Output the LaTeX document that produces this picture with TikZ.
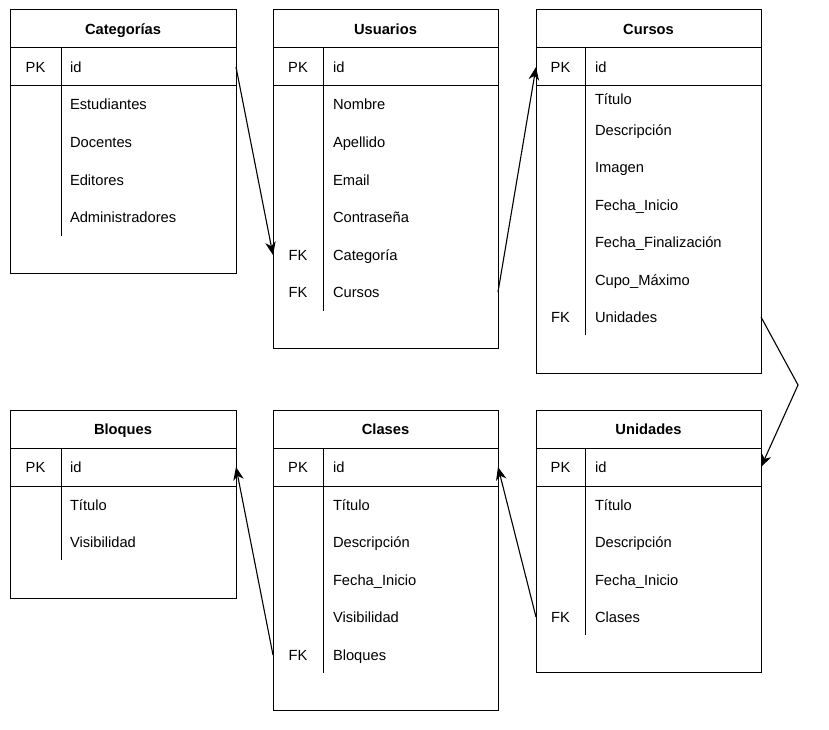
\documentclass[tikz,border=0pt]{standalone}
\usepackage{fontspec}
\setmainfont{Liberation Sans}
\usetikzlibrary{arrows.meta}
\begin{document}
\begin{tikzpicture}[x=1pt,y=-1pt,
  txt/.style={font=\fontsize{14.7}{17}\selectfont, inner sep=0pt, outer sep=0pt, text height=10.5pt, text depth=0pt},
  tbl/.style={draw, line width=1pt, inner sep=0pt, outer sep=0pt, anchor=north west, minimum width=#1},
  ttl/.style={txt, font=\fontsize{14.7}{17}\selectfont\bfseries},
  fld/.style={txt, anchor=west},
  key/.style={txt},
  ln/.style={line width=1pt},
  arr/.style={line width=1.1pt, -{Stealth[length=13pt,width=10.5pt,inset=4pt]}}]
\useasboundingbox (0,0) rectangle (829,730);

% ---------- Categorias ----------
\node[tbl=226pt, minimum height=263pt] (cat) at (10,10) {};
\draw[ln] (10,48) -- (236,48);
\draw[ln] (10,86) -- (236,86);
\draw[ln] (61,48) -- (61,236);
\node[ttl] (cat-t) at (123,29) {Categorías};
\node[key] (cat-pk) at (35.5,67) {PK};
\node[fld] (cat-id) at (70,67) {id};
\node[fld] (cat-f1) at (70,104) {Estudiantes};
\node[fld] (cat-f2) at (70,142) {Docentes};
\node[fld] (cat-f3) at (70,180) {Editores};
\node[fld] (cat-f4) at (70,217) {Administradores};

% ---------- Usuarios ----------
\node[tbl=225pt, minimum height=338pt] (usu) at (273,10) {};
\draw[ln] (273,48) -- (498,48);
\draw[ln] (273,86) -- (498,86);
\draw[ln] (323,48) -- (323,311);
\node[ttl] (usu-t) at (385.5,29) {Usuarios};
\node[key] (usu-pk) at (298,67) {PK};
\node[fld] (usu-id) at (333,67) {id};
\node[fld] (usu-f1) at (333,104) {Nombre};
\node[fld] (usu-f2) at (333,142) {Apellido};
\node[fld] (usu-f3) at (333,180) {Email};
\node[fld] (usu-f4) at (333,217) {Contraseña};
\node[key] (usu-fk1) at (298,255) {FK};
\node[fld] (usu-cat) at (333,255) {Categoría};
\node[key] (usu-fk2) at (298,292) {FK};
\node[fld] (usu-cur) at (333,292) {Cursos};

% ---------- Cursos ----------
\node[tbl=225pt, minimum height=363pt] (cur) at (536,10) {};
\draw[ln] (536,48) -- (761,48);
\draw[ln] (536,86) -- (761,86);
\draw[ln] (585,48) -- (585,335);
\node[ttl] (cur-t) at (648.5,29) {Cursos};
\node[key] (cur-pk) at (560.5,67) {PK};
\node[fld] (cur-id) at (595,67) {id};
\node[fld] (cur-f1) at (595,99) {Título};
\node[fld] (cur-f2) at (595,130) {Descripción};
\node[fld] (cur-f3) at (595,167) {Imagen};
\node[fld] (cur-f4) at (595,205) {Fecha\_Inicio};
\node[fld] (cur-f5) at (595,242) {Fecha\_Finalización};
\node[fld] (cur-f6) at (595,280) {Cupo\_Máximo};
\node[key] (cur-fk) at (560.5,317) {FK};
\node[fld] (cur-uni) at (595,317) {Unidades};

% ---------- Bloques ----------
\node[tbl=226pt, minimum height=188pt] (blo) at (10,410) {};
\draw[ln] (10,448) -- (236,448);
\draw[ln] (10,486) -- (236,486);
\draw[ln] (61,448) -- (61,560);
\node[ttl] (blo-t) at (123,429) {Bloques};
\node[key] (blo-pk) at (35.5,467) {PK};
\node[fld] (blo-id) at (70,467) {id};
\node[fld] (blo-f1) at (70,505) {Título};
\node[fld] (blo-f2) at (70,542) {Visibilidad};

% ---------- Clases ----------
\node[tbl=225pt, minimum height=300pt] (cla) at (273,410) {};
\draw[ln] (273,448) -- (498,448);
\draw[ln] (273,486) -- (498,486);
\draw[ln] (323,448) -- (323,673);
\node[ttl] (cla-t) at (385.5,429) {Clases};
\node[key] (cla-pk) at (298,467) {PK};
\node[fld] (cla-id) at (333,467) {id};
\node[fld] (cla-f1) at (333,505) {Título};
\node[fld] (cla-f2) at (333,542) {Descripción};
\node[fld] (cla-f3) at (333,580) {Fecha\_Inicio};
\node[fld] (cla-f4) at (333,617) {Visibilidad};
\node[key] (cla-fk) at (298,655) {FK};
\node[fld] (cla-blo) at (333,655) {Bloques};

% ---------- Unidades ----------
\node[tbl=225pt, minimum height=262pt] (uni) at (536,410) {};
\draw[ln] (536,448) -- (761,448);
\draw[ln] (536,486) -- (761,486);
\draw[ln] (585,448) -- (585,635);
\node[ttl] (uni-t) at (648.5,429) {Unidades};
\node[key] (uni-pk) at (560.5,467) {PK};
\node[fld] (uni-id) at (595,467) {id};
\node[fld] (uni-f1) at (595,505) {Título};
\node[fld] (uni-f2) at (595,542) {Descripción};
\node[fld] (uni-f3) at (595,580) {Fecha\_Inicio};
\node[key] (uni-fk) at (560.5,617) {FK};
\node[fld] (uni-cla) at (595,617) {Clases};

% ---------- Connectors ----------
\coordinate (bend) at (798,385);
\draw[arr] (cat.east |- cat-id) -- (usu.west |- usu-cat);
\draw[arr] (usu.east |- usu-cur) -- (cur.west |- cur-id);
\draw[arr] (cur.east |- cur-uni) -- (bend) -- (uni.east |- uni-id);
\draw[arr] (cla.west |- cla-blo) -- (blo.east |- blo-id);
\draw[arr] (uni.west |- uni-cla) -- (cla.east |- cla-id);
\end{tikzpicture}
\end{document}
